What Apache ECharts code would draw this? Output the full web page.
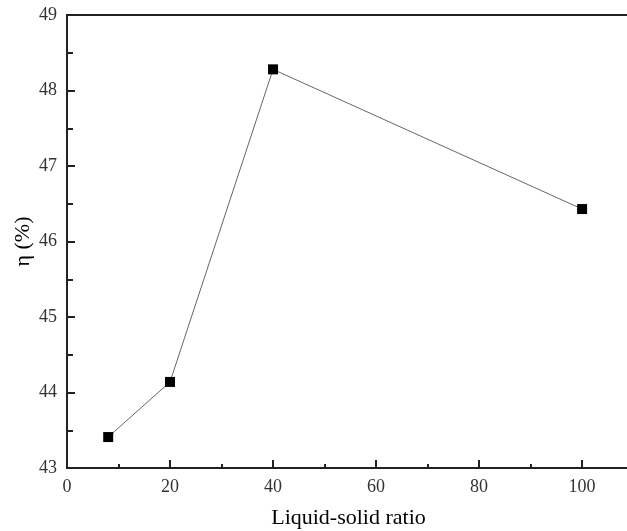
<!DOCTYPE html>
<html>
<head>
<meta charset="utf-8">
<script src="https://cdn.jsdelivr.net/npm/echarts@6/dist/echarts.min.js"></script>
<style>html,body{margin:0;padding:0;background:#fff}#c{width:627px;height:531px}</style>
</head>
<body>
<div id="c"></div>
<script>
const ratios = [8, 20, 40, 100];
const eta = [43.41, 44.14, 48.28, 46.43];
const xTitle = 'Liquid-solid ratio';
const yTitle = 'η (%)';

const font = "'Liberation Serif', 'DejaVu Serif', serif";
const chart = echarts.init(document.getElementById('c'));
const axisLine = { show: true, lineStyle: { color: '#222', width: 2 } };
chart.setOption({
  animation: false,
  backgroundColor: '#fff',
  grid: { left: 67, top: 15, width: 563, height: 453, containLabel: false, outerBoundsMode: 'none' },
  xAxis: [{
    type: 'value', min: 0, max: 109.3, interval: 20,
    position: 'bottom',
    name: xTitle, nameLocation: 'middle', nameGap: 39,
    nameTextStyle: { fontFamily: font, fontSize: 22, color: '#000' },
    axisLine: axisLine,
    axisTick: { show: true, inside: true, length: 8, lineStyle: { color: '#222', width: 2 } },
    minorTick: { show: true, splitNumber: 2, length: 4, lineStyle: { color: '#222', width: 2 } },
    axisLabel: { fontFamily: font, fontSize: 18, color: '#333', margin: 10,
      formatter: v => (v % 20 === 0 ? String(v) : '') },
    splitLine: { show: false }
  }, {
    type: 'value', min: 0, max: 109.3, interval: 20,
    position: 'top',
    axisLine: axisLine,
    axisTick: { show: false }, minorTick: { show: false },
    axisLabel: { show: false }, splitLine: { show: false }
  }],
  yAxis: [{
    type: 'value', min: 43, max: 49, interval: 1,
    position: 'left',
    name: yTitle, nameLocation: 'middle', nameGap: 33, nameRotate: 90, nameMoveOverlap: false,
    nameTextStyle: { fontFamily: font, fontSize: 22, color: '#000' },
    axisLine: axisLine,
    axisTick: { show: true, inside: true, length: 8, lineStyle: { color: '#222', width: 2 } },
    minorTick: { show: true, splitNumber: 2, length: 4, lineStyle: { color: '#222', width: 2 } },
    axisLabel: { fontFamily: font, fontSize: 18, color: '#333', margin: 10 },
    splitLine: { show: false }
  }, {
    type: 'value', min: 43, max: 49, interval: 1,
    position: 'right',
    axisLine: axisLine,
    axisTick: { show: false },
    minorTick: { show: true, splitNumber: 2, length: 6, lineStyle: { color: '#222', width: 2 } },
    axisLabel: { show: false }, splitLine: { show: false }
  }],
  series: [{
    type: 'line',
    data: ratios.map((r, i) => [r, eta[i]]),
    symbol: 'rect', symbolSize: 10,
    itemStyle: { color: '#000' },
    lineStyle: { color: '#666', width: 1 }
  }]
});
</script>
</body>
</html>
